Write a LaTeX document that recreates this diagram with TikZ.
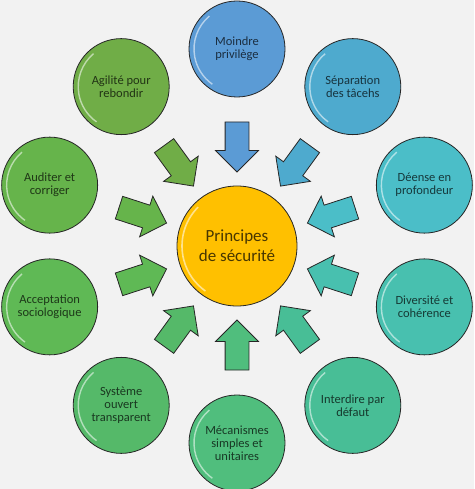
\documentclass[tikz,border=0pt]{standalone}
\usepackage{fontspec}
\setmainfont{Carlito}
\usepackage{tikz}
\usetikzlibrary{shapes.arrows}

\definecolor{bg}{RGB}{242,242,242}
\definecolor{cCentre}{RGB}{255,192,0}
\definecolor{cMoindre}{RGB}{91,155,213}
\definecolor{cSeparation}{RGB}{78,170,206}
\definecolor{cDefense}{RGB}{75,190,200}
\definecolor{cDiversite}{RGB}{72,192,175}
\definecolor{cInterdire}{RGB}{72,190,150}
\definecolor{cMecanismes}{RGB}{80,190,125}
\definecolor{cSysteme}{RGB}{85,185,105}
\definecolor{cAcceptation}{RGB}{95,185,85}
\definecolor{cAuditer}{RGB}{102,180,75}
\definecolor{cAgilite}{RGB}{112,173,71}

\begin{document}
\begin{tikzpicture}[
    principe/.style={circle,draw=black!85,line width=0.8pt,minimum size=96pt,inner sep=0pt,
      align=center,font=\fontsize{12.5}{12.8}\selectfont,
      path picture={\draw[white,opacity=0.55,line width=1.4pt]
        (path picture bounding box.center) ++(130:43pt) arc[start angle=130,end angle=235,radius=43pt];}},
    centre/.style={circle,draw=black!85,line width=0.8pt,minimum size=120pt,inner sep=0pt,
      align=center,font=\fontsize{17}{20}\selectfont,
      path picture={\draw[white,opacity=0.55,line width=1.6pt]
        (path picture bounding box.center) ++(135:55pt) arc[start angle=135,end angle=235,radius=55pt];}},
    fleche/.style={single arrow,draw=black!85,line width=0.8pt,minimum height=50pt,
      inner xsep=0pt,inner ysep=11.5pt,single arrow head extend=9.5pt,single arrow tip angle=90}
  ]
            % Background and frame
            \useasboundingbox (-237pt,-243pt) rectangle (237pt,246pt);
            \fill[bg] (-237pt,-243pt) rectangle (237pt,246pt);

            % Place the center node
            \node[centre,fill=cCentre,text=cCentre!28!black] (ps) at (0,0) {Principes\\de sécurité};

            % Place the other nodes
            \node[principe,fill=cMoindre,text=cMoindre!30!black] (moindre) at (90:197pt) {Moindre\\privilège};
            \node[principe,fill=cSeparation,text=cSeparation!30!black] (separation) at (54:197pt) {Séparation\\des tâcehs};
            \node[principe,fill=cDefense,text=cDefense!30!black] (defense) at (18:197pt) {Déense en\\profondeur};
            \node[principe,fill=cDiversite,text=cDiversite!30!black] (diversite) at (-18:197pt) {Diversité et\\cohérence};
            \node[principe,fill=cInterdire,text=cInterdire!30!black] (interdire) at (-54:197pt) {Interdire par\\défaut};
            \node[principe,fill=cMecanismes,text=cMecanismes!30!black] (mecanismes) at (-90:197pt) {Mécanismes\\simples et\\unitaires};
            \node[principe,fill=cSysteme,text=cSysteme!30!black] (systeme) at (-126:197pt) {Système\\ouvert\\transparent};
            \node[principe,fill=cAcceptation,text=cAcceptation!30!black] (acceptation) at (-162:197pt) {Acceptation\\sociologique};
            \node[principe,fill=cAuditer,text=cAuditer!30!black] (auditer) at (162:197pt) {Auditer et\\corriger};
            \node[principe,fill=cAgilite,text=cAgilite!30!black] (agilite) at (126:197pt) {Agilité pour\\rebondir};

            % The arrows!
            \node[fleche,fill=cMoindre,rotate=270] (a-moindre) at (90:105pt) {};
            \node[fleche,fill=cSeparation,rotate=234] (a-separation) at (54:105pt) {};
            \node[fleche,fill=cDefense,rotate=198] (a-defense) at (18:105pt) {};
            \node[fleche,fill=cDiversite,rotate=162] (a-diversite) at (-18:105pt) {};
            \node[fleche,fill=cInterdire,rotate=126] (a-interdire) at (-54:105pt) {};
            \node[fleche,fill=cMecanismes,rotate=90] (a-mecanismes) at (-90:105pt) {};
            \node[fleche,fill=cSysteme,rotate=54] (a-systeme) at (-126:105pt) {};
            \node[fleche,fill=cAcceptation,rotate=18] (a-acceptation) at (-162:105pt) {};
            \node[fleche,fill=cAuditer,rotate=-18] (a-auditer) at (162:105pt) {};
            \node[fleche,fill=cAgilite,rotate=-54] (a-agilite) at (126:105pt) {};
        \end{tikzpicture}
\end{document}
